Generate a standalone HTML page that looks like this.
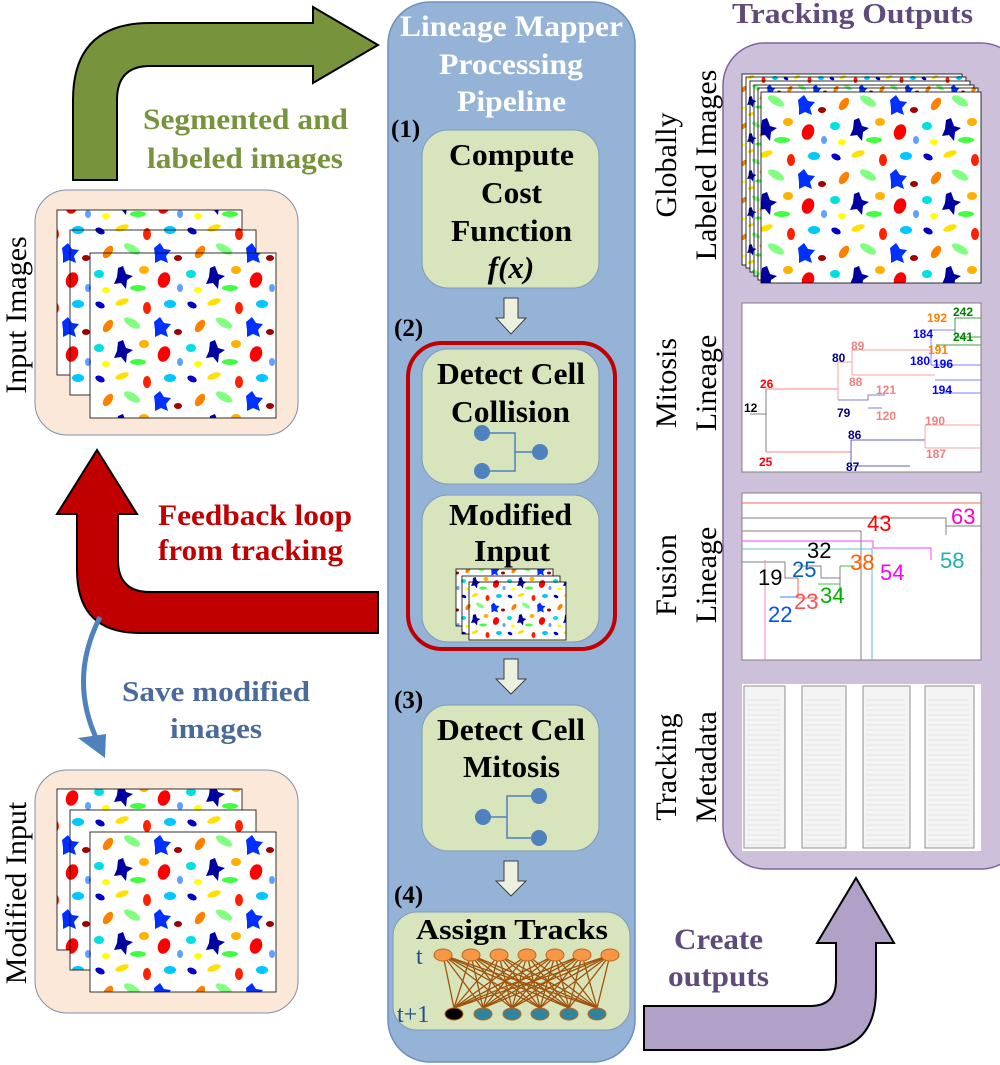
<!DOCTYPE html>
<html><head><meta charset="utf-8"><style>
html,body{margin:0;padding:0;background:#fff}
svg{display:block}
.b{font-family:"Liberation Serif",serif;font-weight:bold}
.r{font-family:"Liberation Serif",serif}
.s{font-family:"Liberation Sans",sans-serif}
</style></head><body>
<svg width="1000" height="1065" viewBox="0 0 1000 1065" xmlns="http://www.w3.org/2000/svg">
<defs>
<pattern id="cells" width="92" height="74" patternUnits="userSpaceOnUse">
<rect width="92" height="74" fill="#fff"/>
<ellipse cx="8" cy="9" rx="5" ry="3" fill="#0000c8" transform="rotate(25 8 9)"/>
<ellipse cx="30" cy="6" rx="7" ry="3" fill="#ffe000" transform="rotate(-20 30 6)"/>
<ellipse cx="55" cy="12" rx="4" ry="6" fill="#ff2000"/>
<ellipse cx="78" cy="8" rx="6" ry="4" fill="#00c8ff"/>
<ellipse cx="16" cy="30" rx="4" ry="7" fill="#ff8000" transform="rotate(35 16 30)"/>
<ellipse cx="40" cy="27" rx="9" ry="4" fill="#80ff80" transform="rotate(30 40 27)"/>
<path d="M62,26 l6,-5 l4,6 l7,1 l-5,6 l2,7 l-7,-3 l-6,3 l0,-7 z" fill="#0030ff"/>
<ellipse cx="86" cy="36" rx="4" ry="3" fill="#a00000"/>
<ellipse cx="7" cy="52" rx="5" ry="4" fill="#00e0e0"/>
<path d="M26,46 l5,-2 l3,8 l7,2 l-6,4 l-1,9 l-5,-6 l-7,1 l3,-7 z" fill="#0000a0"/>
<ellipse cx="52" cy="48" rx="5" ry="4" fill="#ffb000"/>
<ellipse cx="72" cy="58" rx="6" ry="8" fill="#ff0000" transform="rotate(20 72 58)"/>
<ellipse cx="46" cy="66" rx="8" ry="3" fill="#40ff40"/>
<ellipse cx="14" cy="68" rx="4" ry="3" fill="#ffff00"/>
<ellipse cx="88" cy="66" rx="3" ry="4" fill="#60a0ff"/>
</pattern>
<pattern id="cells2" href="#cells" patternTransform="scale(0.5)"/>
</defs>

<g>
<rect x="388" y="2" width="247" height="1060" rx="42" fill="#95b3d7" stroke="#6f8fbf" stroke-width="1.5"/>
<g class="b" fill="#fff" font-size="30" lengthAdjust="spacingAndGlyphs">
<text x="400" y="36" textLength="223" lengthAdjust="spacingAndGlyphs">Lineage Mapper</text>
<text x="439" y="74" textLength="144" lengthAdjust="spacingAndGlyphs">Processing</text>
<text x="457" y="111" textLength="109" lengthAdjust="spacingAndGlyphs">Pipeline</text>
</g>

<text class="b" x="391" y="137" font-size="25" fill="#000">(1)</text>
<g>
<rect x="422" y="130" width="177" height="158" rx="26" fill="#d7e4bc" stroke="#7f9ab8"/>
<text class="b" x="449" y="165" font-size="31" textLength="125" lengthAdjust="spacingAndGlyphs">Compute</text>
<text class="b" x="481" y="203" font-size="31" textLength="61" lengthAdjust="spacingAndGlyphs">Cost</text>
<text class="b" x="451" y="241" font-size="31" textLength="121" lengthAdjust="spacingAndGlyphs">Function</text>
<text class="b" x="511" y="278" font-size="31" text-anchor="middle" font-style="italic">f(x)</text>
</g>
<polygon points="504,298 518,298 518,318 526,318 511,334 496,318 504,318" fill="#ebf1de" stroke="#404040"/>

<text class="b" x="394" y="336" font-size="25">(2)</text>
<rect x="408" y="343" width="207" height="306" rx="34" fill="none" stroke="#c00000" stroke-width="4"/>
<g>
<rect x="422" y="349" width="177" height="135" rx="26" fill="#d7e4bc" stroke="#7f9ab8"/>
<text class="b" x="437" y="384" font-size="31" textLength="148" lengthAdjust="spacingAndGlyphs">Detect Cell</text>
<text class="b" x="451" y="422" font-size="31" textLength="119" lengthAdjust="spacingAndGlyphs">Collision</text>
<path d="M482,433 H515 V471 H482 M515,452 H540" fill="none" stroke="#4f81bd" stroke-width="1.5"/>
<circle cx="482" cy="433" r="8" fill="#4f81bd"/><circle cx="482" cy="471" r="8" fill="#4f81bd"/><circle cx="540" cy="452" r="8" fill="#4f81bd"/>
</g>
<g>
<rect x="422" y="495" width="177" height="147" rx="26" fill="#d7e4bc" stroke="#7f9ab8"/>
<text class="b" x="449" y="525" font-size="31" textLength="123" lengthAdjust="spacingAndGlyphs">Modified</text>
<text class="b" x="474" y="561" font-size="31" textLength="76" lengthAdjust="spacingAndGlyphs">Input</text>
<rect x="456" y="569" width="97" height="57" fill="url(#cells2)" stroke="#000" stroke-width="0.8"/>
<rect x="462" y="576" width="98" height="58" fill="url(#cells2)" stroke="#000" stroke-width="0.8"/>
<rect x="469" y="582" width="97" height="58" fill="url(#cells2)" stroke="#000" stroke-width="0.8"/>
</g>
<polygon points="504,659 518,659 518,679 526,679 511,694 496,679 504,679" fill="#ebf1de" stroke="#404040"/>

<text class="b" x="394" y="708" font-size="25">(3)</text>
<g>
<rect x="422" y="705" width="177" height="146" rx="26" fill="#d7e4bc" stroke="#7f9ab8"/>
<text class="b" x="437" y="740" font-size="31" textLength="148" lengthAdjust="spacingAndGlyphs">Detect Cell</text>
<text class="b" x="463" y="777" font-size="31" textLength="97" lengthAdjust="spacingAndGlyphs">Mitosis</text>
<path d="M483,817 H507 M539,796 H507 V838 H539" fill="none" stroke="#4f81bd" stroke-width="1.5"/>
<circle cx="483" cy="817" r="8" fill="#4f81bd"/><circle cx="539" cy="796" r="8" fill="#4f81bd"/><circle cx="539" cy="838" r="8" fill="#4f81bd"/>
</g>
<polygon points="504,861 518,861 518,881 526,881 511,896 496,881 504,881" fill="#ebf1de" stroke="#404040"/>

<text class="b" x="394" y="903" font-size="25">(4)</text>
<g>
<rect x="393" y="912" width="237" height="118" rx="24" fill="#d7e4bc" stroke="#7f9ab8"/>
<text class="b" x="416" y="939" font-size="29" textLength="192" lengthAdjust="spacingAndGlyphs">Assign Tracks</text>
<text class="r" x="416" y="964" font-size="24" fill="#1f4e8c">t</text>
<text class="r" x="397" y="1022" font-size="24" fill="#1f4e8c">t+1</text>
<g id="edges" stroke="#a0520a" stroke-width="1.3"></g>
<g id="nodes"></g>
</g>
</g>

<text class="b" x="732" y="23" font-size="28" fill="#604a7b" textLength="241" lengthAdjust="spacingAndGlyphs">Tracking Outputs</text>
<rect x="723" y="43" width="300" height="826" rx="42" fill="#ccc0da" stroke="#8064a2" stroke-width="1.5"/>

<g class="r" font-size="30" text-anchor="middle" fill="#000">
<text transform="translate(676,165) rotate(-90)">Globally</text>
<text transform="translate(716,165) rotate(-90)">Labeled Images</text>
<text transform="translate(676,383) rotate(-90)">Mitosis</text>
<text transform="translate(716,383) rotate(-90)">Lineage</text>
<text transform="translate(676,575) rotate(-90)">Fusion</text>
<text transform="translate(716,575) rotate(-90)">Lineage</text>
<text transform="translate(676,767) rotate(-90)">Tracking</text>
<text transform="translate(716,767) rotate(-90)">Metadata</text>
</g>

<g stroke="#000" stroke-width="0.8">
<rect x="742" y="74" width="220" height="191" fill="url(#cells2)"/>
<rect x="746" y="77" width="220" height="191" fill="url(#cells2)"/>
<rect x="750" y="81" width="220" height="191" fill="url(#cells2)"/>
<rect x="754" y="85" width="220" height="191" fill="url(#cells2)"/>
<rect x="758" y="88" width="220" height="192" fill="url(#cells2)"/>
<rect x="761" y="92" width="220" height="191" fill="url(#cells)"/>
</g>

<g>
<rect x="742" y="303" width="239" height="169" fill="#fff" stroke="#808080"/>
<g fill="none" stroke-width="1">
<path d="M750,414 H766 M766,389 V452" stroke="#808080"/>
<path d="M766,389 H838 M766,452 H851" stroke="#ff8080"/>
<path d="M838,362 V400 M838,362 H852 M838,400 H855" stroke="#f4a0a0"/>
<path d="M852,350 V375 M852,350 H931 M852,375 H935" stroke="#f4a0a0"/>
<path d="M838,400 H868 V395 H885 M868,408 H882" stroke="#8080c0"/>
<path d="M851,440 V466 M851,440 H925 M851,466 H910" stroke="#6060c0"/>
<path d="M925,425 V448 M925,425 H981 M925,448 H981" stroke="#f4a0a0"/>
<path d="M931,330 V365 M931,330 H955 M931,365 H981 M935,380 H981 M935,393 H981" stroke="#8080ff"/>
<path d="M955,318 V337 M955,318 H981 M955,337 H981 M936,345 H981" stroke="#40a040"/>
</g>
<g class="s" font-size="12" font-weight="bold">
<text x="744" y="412" fill="#000">12</text>
<text x="760" y="388" fill="#ff0000">26</text>
<text x="759" y="466" fill="#ff0000">25</text>
<text x="832" y="362" fill="#000080">80</text>
<text x="849" y="386" fill="#f08080">88</text>
<text x="851" y="350" fill="#f08080">89</text>
<text x="837" y="417" fill="#000080">79</text>
<text x="876" y="394" fill="#f08080">121</text>
<text x="876" y="420" fill="#f08080">120</text>
<text x="848" y="439" fill="#000080">86</text>
<text x="846" y="471" fill="#000080">87</text>
<text x="913" y="338" fill="#0000ff">184</text>
<text x="927" y="322" fill="#ff8000">192</text>
<text x="953" y="316" fill="#008000">242</text>
<text x="953" y="341" fill="#008000">241</text>
<text x="928" y="354" fill="#ff8000">191</text>
<text x="910" y="365" fill="#0000ff">180</text>
<text x="933" y="368" fill="#0000ff">196</text>
<text x="932" y="394" fill="#0000ff">194</text>
<text x="925" y="425" fill="#f08080">190</text>
<text x="926" y="458" fill="#f08080">187</text>
</g>
</g>

<g>
<rect x="742" y="493" width="239" height="167" fill="#fff" stroke="#808080"/>
<g fill="none" stroke-width="1">
<path d="M742,503 H981" stroke="#ff6060"/>
<path d="M742,518 H946 V535 M946,526 H981" stroke="#808080"/>
<path d="M742,531 H861 M861,531 V660" stroke="#808080"/>
<path d="M742,541 H873 V548 H931 V560" stroke="#ff40ff"/>
<path d="M742,549 H872 V660" stroke="#60c0c0"/>
<path d="M742,562 H785 V578 H798" stroke="#808080"/>
<path d="M798,566 H821 V578 H840 M840,566 V600" stroke="#808080"/>
<path d="M798,578 V598 H818" stroke="#ff6060"/>
<path d="M818,584 H840 M840,566 H855" stroke="#40c040"/>
<path d="M780,597 H798" stroke="#4080ff"/>
<path d="M765,560 V660" stroke="#ff80c0"/>
</g>
<g class="s" font-size="22">
<text x="951" y="524" fill="#ff00cc">63</text>
<text x="867" y="531" fill="#ff0000">43</text>
<text x="807" y="558" fill="#000">32</text>
<text x="850" y="570" fill="#ff6000">38</text>
<text x="880" y="580" fill="#ff00ff">54</text>
<text x="940" y="568" fill="#20b0b0">58</text>
<text x="758" y="585" fill="#000">19</text>
<text x="792" y="577" fill="#0060c0">25</text>
<text x="794" y="609" fill="#ff5050">23</text>
<text x="820" y="603" fill="#00b000">34</text>
<text x="768" y="622" fill="#0050ff">22</text>
</g>
</g>

<g>
<rect x="742" y="684" width="239" height="167" fill="#fff"/>
<g id="tables"></g>
</g>

<path d="M73,180 V100 Q73,23 150,23 H313 V7 L378,45 L313,83 V66 H150 Q117,66 117,100 V180 Z" fill="#77933c" stroke="#000" stroke-width="2"/>
<text class="b" x="143" y="129" font-size="30" fill="#77933c" textLength="205" lengthAdjust="spacingAndGlyphs">Segmented and</text>
<text class="b" x="147" y="168" font-size="30" fill="#77933c" textLength="196" lengthAdjust="spacingAndGlyphs">labeled images</text>

<g>
<rect x="35" y="190" width="263" height="245" rx="32" fill="#fbe8d8" stroke="#7f8fa8"/>
<rect x="57" y="210" width="185" height="165" fill="url(#cells)" stroke="#000" stroke-width="0.8"/>
<rect x="70" y="230" width="186" height="165" fill="url(#cells)" stroke="#000" stroke-width="0.8"/>
<rect x="90" y="253" width="186" height="165" fill="url(#cells)" stroke="#000" stroke-width="0.8"/>
</g>
<text class="r" transform="translate(26,315) rotate(-90)" font-size="30" text-anchor="middle">Input Images</text>

<path d="M97,450 L137,514 H118 V560 Q118,592 150,592 H378 V633 H140 Q77,633 77,570 V514 H57 Z" fill="#c00000" stroke="#000" stroke-width="2"/>
<text class="b" x="158" y="525" font-size="30" fill="#c00000" textLength="194" lengthAdjust="spacingAndGlyphs">Feedback loop</text>
<text class="b" x="158" y="560" font-size="30" fill="#c00000" textLength="185" lengthAdjust="spacingAndGlyphs">from tracking</text>

<path d="M100,617 Q68,680 98,742" fill="none" stroke="#4f81bd" stroke-width="5"/>
<polygon points="78,738 106,734 105,758" fill="#4f81bd"/>
<text class="b" x="122" y="701" font-size="29" fill="#4a6a9c" textLength="188" lengthAdjust="spacingAndGlyphs">Save modified</text>
<text class="b" x="170" y="738" font-size="29" fill="#4a6a9c" textLength="92" lengthAdjust="spacingAndGlyphs">images</text>

<g>
<rect x="35" y="770" width="263" height="243" rx="32" fill="#fbe8d8" stroke="#7f8fa8"/>
<rect x="57" y="789" width="185" height="161" fill="url(#cells)" stroke="#000" stroke-width="0.8"/>
<rect x="70" y="810" width="186" height="160" fill="url(#cells)" stroke="#000" stroke-width="0.8"/>
<rect x="90" y="832" width="186" height="160" fill="url(#cells)" stroke="#000" stroke-width="0.8"/>
</g>
<text class="r" transform="translate(26,893) rotate(-90)" font-size="30" text-anchor="middle">Modified Input</text>

<path d="M644,1006 H810 Q836,1006 836,980 V943 H817 L856,878 L894,943 H876 V990 Q876,1050 820,1050 H644 Z" fill="#b1a0c7" stroke="#000" stroke-width="2"/>
<text class="b" x="674" y="949" font-size="30" fill="#604a7b" textLength="89" lengthAdjust="spacingAndGlyphs">Create</text>
<text class="b" x="668" y="986" font-size="30" fill="#604a7b" textLength="101" lengthAdjust="spacingAndGlyphs">outputs</text>
</svg>
<script>
const NS='http://www.w3.org/2000/svg';
const topX=[443,471,499,527,555,582,610];
const botX=[454,483,512,540,569,597];
const eg=document.getElementById('edges'), ng=document.getElementById('nodes');
topX.forEach(a=>botX.forEach(b=>{
  const l=document.createElementNS(NS,'line');
  l.setAttribute('x1',a);l.setAttribute('y1',955);l.setAttribute('x2',b);l.setAttribute('y2',1008);
  
  
  eg.appendChild(l);
}));
topX.forEach(a=>{
  const e=document.createElementNS(NS,'ellipse');
  e.setAttribute('cx',a);e.setAttribute('cy',955);e.setAttribute('rx',9);e.setAttribute('ry',6);
  e.setAttribute('fill','#f79646');e.setAttribute('stroke','#c0651a');
  
  
  ng.appendChild(e);
});
botX.forEach((a,i)=>{
  const e=document.createElementNS(NS,'ellipse');
  e.setAttribute('cx',a);e.setAttribute('cy',1014);e.setAttribute('rx',9);e.setAttribute('ry',6);
  e.setAttribute('fill',i==0?'#000':'#31849b');e.setAttribute('stroke','#c0651a');
  
  
  ng.appendChild(e);
});
const tg=document.getElementById('tables');
const tx=[[744,785],[802,846],[863,910],[925,974]];
tx.forEach(([a,b])=>{
  const r=document.createElementNS(NS,'rect');
  r.setAttribute('x',a);r.setAttribute('y',686);r.setAttribute('width',b-a);r.setAttribute('height',162);
  r.setAttribute('fill','#f4f4f4');r.setAttribute('stroke','#909090');
  
  
  tg.appendChild(r);
  for(let y=700;y<846;y+=5){
    const l=document.createElementNS(NS,'line');
    l.setAttribute('x1',a+3);l.setAttribute('x2',b-5);l.setAttribute('y1',y);l.setAttribute('y2',y);
    l.setAttribute('stroke','#d0d0d0');l.setAttribute('stroke-width','0.6');
    
    
    tg.appendChild(l);
  }
});
</script>
</body></html>
